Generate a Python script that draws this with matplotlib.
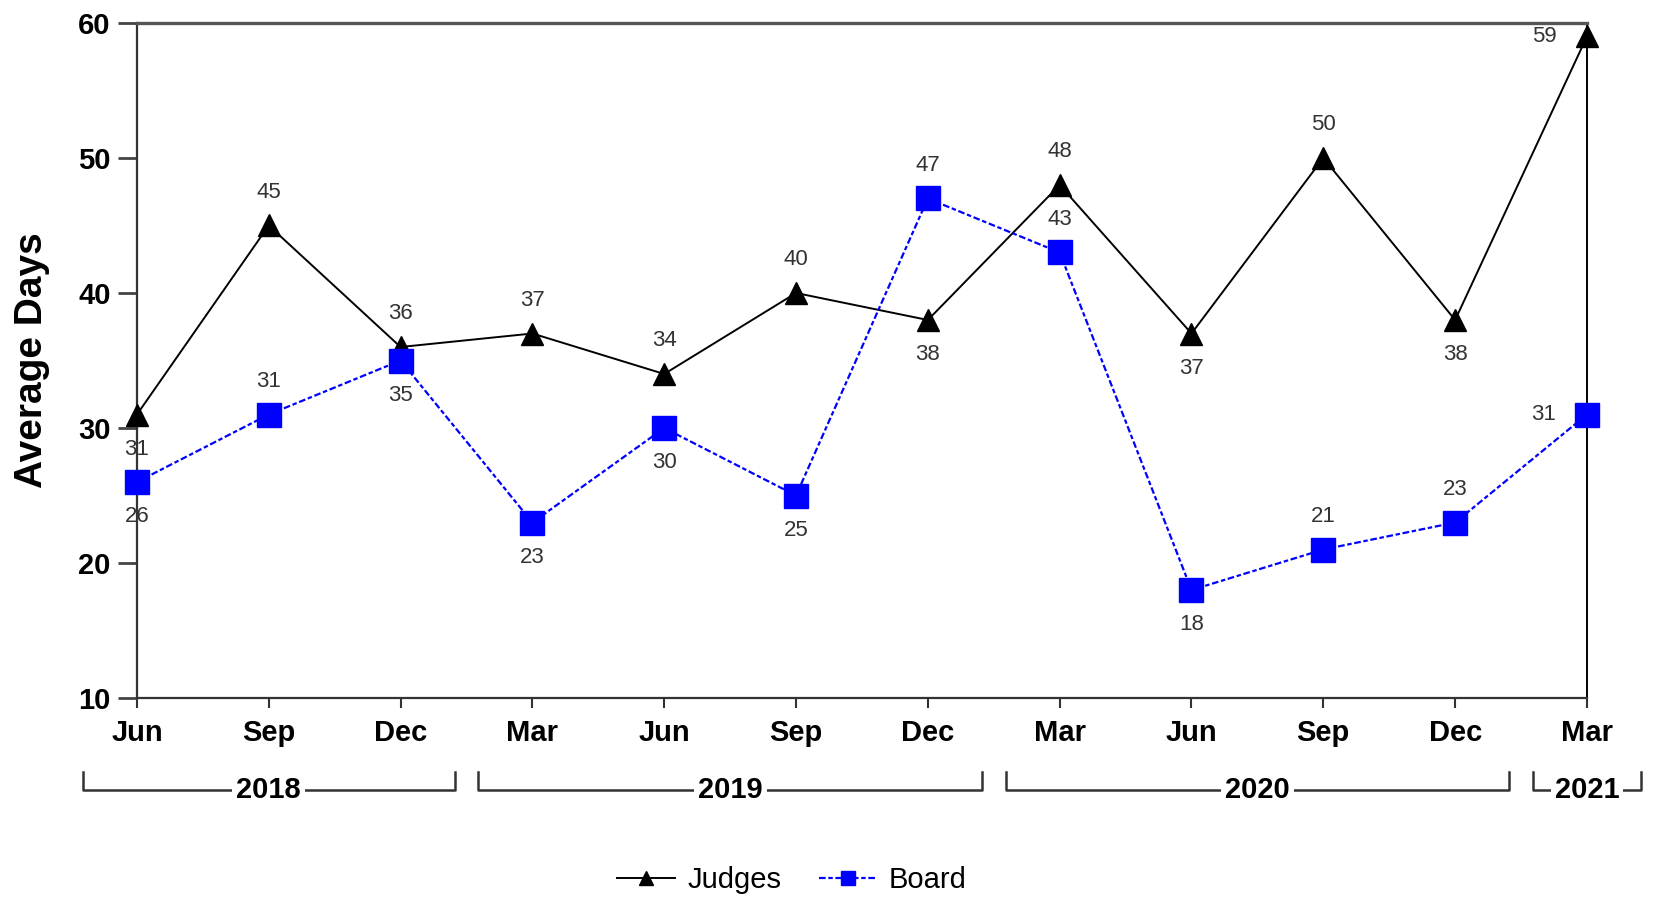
import matplotlib.pyplot as plt
import matplotlib.transforms as mtransforms

months = ['Jun', 'Sep', 'Dec', 'Mar', 'Jun', 'Sep', 'Dec', 'Mar', 'Jun', 'Sep', 'Dec', 'Mar']
judges = [31, 45, 36, 37, 34, 40, 38, 48, 37, 50, 38, 59]
board = [26, 31, 35, 23, 30, 25, 47, 43, 18, 21, 23, 31]
years = ['2018', '2019', '2020', '2021']
year_spans = [(0, 2), (3, 6), (7, 10), (11, 11)]
# where the point labels go: 'a' above, 'b' below, 'l' left
judges_pos = ['b', 'a', 'a', 'a', 'a', 'a', 'b', 'a', 'b', 'a', 'b', 'l']
board_pos = ['b', 'a', 'b', 'b', 'b', 'b', 'a', 'a', 'b', 'a', 'a', 'l']

plt.rcParams['font.family'] = ['Liberation Sans', 'DejaVu Sans']

fig = plt.figure(figsize=(16.56, 8.98), dpi=100)
ax = fig.add_axes([0.0827, 0.2227, 0.8756, 0.7517])

x = list(range(len(months)))
ax.plot(x, judges, color='black', lw=1.4, marker='^', markersize=16,
        label='Judges', clip_on=False, zorder=3)
ax.plot(x, board, color='#0000ff', lw=1.6, linestyle=(0, (3, 1.2, 2, 1.2)),
        marker='s', markersize=17, markeredgecolor='#0000ff',
        label='Board', clip_on=False, zorder=4)

offsets = {'a': (0, 24), 'b': (0, -25), 'l': (-31, 0)}
for series, pos in [(judges, judges_pos), (board, board_pos)]:
    for xi, v, p in zip(x, series, pos):
        ax.annotate(str(v), (xi, v), xytext=offsets[p], textcoords='offset points',
                    ha='center', va='center', fontsize=16, color='#333333',
                    zorder=5, annotation_clip=False)

ax.set_xlim(0, 11)
ax.set_ylim(10, 60)
ax.set_yticks([10, 20, 30, 40, 50, 60])
ax.set_xticks(x)
ax.set_xticklabels(months)
for lbl in ax.get_xticklabels() + ax.get_yticklabels():
    lbl.set_fontweight('bold')
ax.tick_params(axis='x', length=7, width=1.5, pad=8, labelsize=21, color='#333333')
ax.tick_params(axis='y', length=14, width=2, pad=5, labelsize=21, color='#444444')

for side in ['left', 'bottom']:
    ax.spines[side].set_linewidth(1.6)
    ax.spines[side].set_color('#333333')
ax.spines['top'].set_linewidth(2.4)
ax.spines['top'].set_color('#555555')
ax.spines['right'].set_linewidth(1.4)
ax.spines['right'].set_color('black')

ax.set_ylabel('Average Days', fontsize=28, fontweight='bold', labelpad=20)

# year brackets under the month labels
trans = mtransforms.blended_transform_factory(ax.transData, ax.transAxes)
y_line = -0.136
y_end = -0.110
for yr, (a, b) in zip(years, year_spans):
    x0 = a - 0.41
    x1 = b + 0.41
    ax.plot([x0, x0, x1, x1], [y_end, y_line, y_line, y_end], color='#333333',
            lw=1.8, transform=trans, clip_on=False)
    ax.text((a + b) / 2, y_line, yr, transform=trans, ha='center', va='center',
            fontsize=21, fontweight='bold',
            bbox=dict(facecolor='white', edgecolor='none', pad=3))

fig.legend(loc='center', bbox_to_anchor=(792 / 1656, 1 - 880 / 898), ncol=2,
           frameon=False, fontsize=21, markerscale=0.6, handlelength=2,
           handletextpad=0.4, columnspacing=1.3)

fig.savefig('out.png', dpi=100, facecolor='white')
